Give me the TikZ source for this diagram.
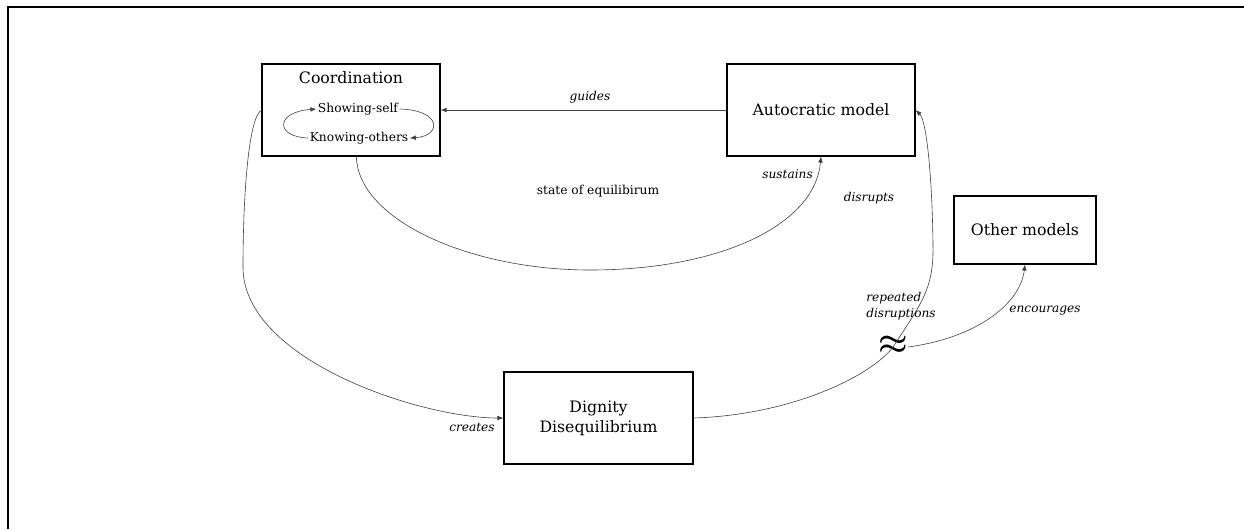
\documentclass[tikz,border=0pt]{standalone}
\usepackage{amsmath}
\usepackage{fontspec}
\setmainfont{DejaVu Serif}
\usetikzlibrary{arrows.meta,calc}
\begin{document}
\begin{tikzpicture}[x=0.75pt,y=-0.75pt,
  box/.style={draw=black,line width=0.8pt,minimum width=#1,inner sep=0pt,font=\fontsize{11.8}{15}\selectfont,align=center},
  conn/.style={draw=black!75,line width=0.45pt},
  arr/.style={conn,-{Latex[length=4.5pt,width=3.5pt]}},
  lab/.style={font=\fontsize{9.1}{11.5}\selectfont\itshape,inner sep=0pt,align=left},
  small/.style={font=\fontsize{9.2}{11}\selectfont,inner sep=1pt}]
\useasboundingbox (0,0) rectangle (1244,529);
% frame
\draw[line width=2.2pt] (8,529) -- (8,7) -- (145,7);
\draw[line width=1.1pt] (145,7) -- (1109,7);
\draw[line width=2.2pt] (1109,7) -- (1244,7);
% boxes
\node[box=133.5pt,minimum height=69pt] (coord) at (351,110) {};
\node[font=\fontsize{11.8}{15}\selectfont,inner sep=0pt] (ctitle) at (351,78) {Coordination};
\node[small] (show) at (358,109) {Showing-self};
\node[small] (know) at (359,138) {Knowing-others};
\node[box=141pt,minimum height=69pt] (auto) at (821,110) {Autocratic model};
\node[box=106.5pt,minimum height=51pt] (other) at (1025,230) {Other models};
\node[box=141.75pt,minimum height=69pt] (dig) at (598.5,418) {Dignity\\Disequilibrium};
% inner loop
\draw[arr] (know.west) .. controls (275,137) and (275,112) .. (show.west);
\draw[arr] (show.east) .. controls (442,110) and (442,136) .. (know.east);
% guides
\draw[arr] (auto.west) -- (coord.east);
\node[lab] at (590,97) {guides};
% sustains
\coordinate (sbot) at (590,270);
\draw[conn] ([xshift=4pt]coord.south) .. controls (358,220) and (470,270) .. (sbot);
\draw[arr] (sbot) .. controls (720,270) and (815,225) .. (auto.south);
\node[lab,anchor=east] at (813,174) {sustains};
\node[font=\fontsize{9.2}{11}\selectfont] at (598,191) {state of equilibirum};
% creates
\coordinate (cleft) at (243,268);
\draw[conn] (coord.west) .. controls (248,118) and (243,200) .. (cleft);
\draw[arr] (cleft) .. controls (244,360) and (420,418) .. (dig.west);
\node[lab] at (472,427) {creates};
% disrupts
\node[inner sep=0pt,font=\fontsize{24}{24}\selectfont,text height=10pt,text depth=0pt] (approx) at (893,347) {$\boldsymbol{\approx}$};
\coordinate (dtop) at (933,245);
\draw[conn] (dig.east) .. controls (790,415) and (870,377) .. (approx.center);
\draw[conn] (approx.center) .. controls (920,305) and (934,290) .. (dtop);
\draw[arr] (dtop) .. controls (932,170) and (926,120) .. (auto.east);
\node[lab] at (869,198) {disrupts};
\node[lab,anchor=west] at (866,306) {repeated\\disruptions};
% encourages
\draw[arr] (approx.east) .. controls (975,338) and (1020,305) .. (other.south);
\node[lab] at (1045,311) {encourages};
\end{tikzpicture}
\end{document}
